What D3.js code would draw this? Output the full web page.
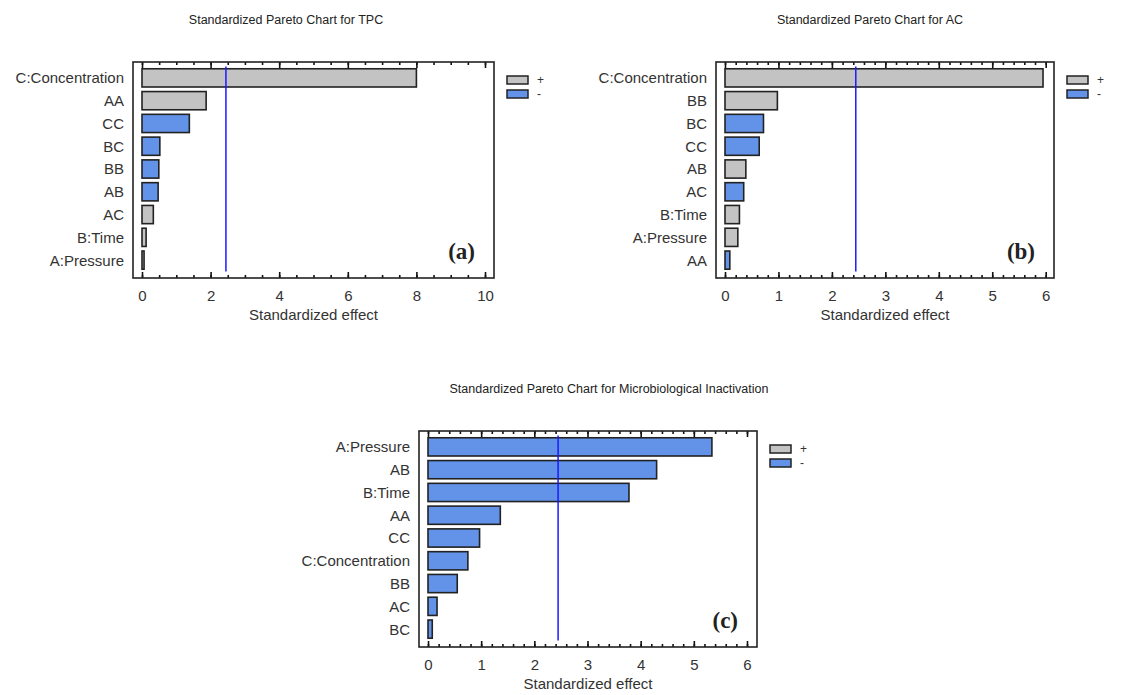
<!DOCTYPE html>
<html>
<head>
<meta charset="utf-8">
<script src="https://cdnjs.cloudflare.com/ajax/libs/d3/7.8.5/d3.min.js"></script>
<style>
  body { margin: 0; background: #fff; }
  svg { font-family: "Liberation Sans", Arial, sans-serif; }
</style>
</head>
<body>
<svg width="1137" height="695"></svg>
<script>
// panel (a) TPC
var termsA = ["C:Concentration", "AA", "CC", "BC", "BB", "AB", "AC", "B:Time", "A:Pressure"];
var effectsA = [8.0, 1.87, 1.38, 0.52, 0.49, 0.47, 0.33, 0.12, 0.06];
var signsA = ["+", "+", "-", "-", "-", "-", "+", "+", "+"];
var ticksA = [0, 2, 4, 6, 8, 10];

// panel (b) AC
var termsB = ["C:Concentration", "BB", "BC", "CC", "AB", "AC", "B:Time", "A:Pressure", "AA"];
var effectsB = [5.95, 0.98, 0.72, 0.64, 0.39, 0.35, 0.27, 0.24, 0.09];
var signsB = ["+", "+", "-", "-", "+", "-", "+", "+", "-"];
var ticksB = [0, 1, 2, 3, 4, 5, 6];

// panel (c) microbiological inactivation
var termsC = ["A:Pressure", "AB", "B:Time", "AA", "CC", "C:Concentration", "BB", "AC", "BC"];
var effectsC = [5.34, 4.30, 3.78, 1.36, 0.97, 0.75, 0.55, 0.17, 0.08];
var signsC = ["-", "-", "-", "-", "-", "-", "-", "-", "-"];
var ticksC = [0, 1, 2, 3, 4, 5, 6];

var critical = 2.447;
var legendKeys = ["+", "-"];

var svg = d3.select("svg");
var color = { "+": "#c3c3c3", "-": "#6393e8" };

function drawPanel(p) {
    var g = svg.append("g");
    var x = d3.scaleLinear().domain([0, p.max]).range([p.left + 9, p.right - p.rpad]);
    var y = d3.scaleBand().domain(p.terms).range([p.top + 4.5, p.bottom - 6.5]).paddingInner(0.2).paddingOuter(0.1);

    g.append("text")
     .attr("x", p.titleX)
     .attr("y", p.top - 38)
     .attr("text-anchor", "middle")
     .attr("font-size", "12.5px")
     .style("fill", "#222")
     .text(p.title);

    // minor and major ticks, bottom and top, pointing inward
    var minor = d3.range(0, p.max + 1e-9, p.minor);
    function clean(s) {
        s.select(".domain").remove();
        s.selectAll(".tick line").attr("stroke", "#111").attr("stroke-width", 1.6);
    }
    g.append("g")
     .attr("transform", "translate(0," + p.bottom + ")")
     .call(d3.axisBottom(x).tickValues(minor).tickSize(-3).tickFormat(""))
     .call(clean);
    g.append("g")
     .attr("transform", "translate(0," + p.top + ")")
     .call(d3.axisTop(x).tickValues(minor).tickSize(-3).tickFormat(""))
     .call(clean);
    g.append("g")
     .attr("transform", "translate(0," + p.top + ")")
     .call(d3.axisTop(x).tickValues(p.ticks).tickSize(-6).tickFormat(""))
     .call(clean);
    var ax = g.append("g")
     .attr("transform", "translate(0," + p.bottom + ")")
     .call(d3.axisBottom(x).tickValues(p.ticks).tickSize(-6).tickPadding(12).tickFormat(d3.format("d")))
     .call(clean);
    ax.selectAll("text").attr("font-size", "15px").attr("fill", "#333").attr("font-family", "Liberation Sans, Arial, sans-serif");

    g.append("text")
     .attr("x", (p.left + p.right) / 2)
     .attr("y", p.bottom + 42)
     .attr("text-anchor", "middle")
     .attr("font-size", "15px")
     .style("fill", "#333")
     .text("Standardized effect");

    // term labels
    g.selectAll(".term")
     .data(p.terms)
     .enter().append("text")
     .attr("class", "term")
     .attr("x", p.left - 9)
     .attr("y", function(d) { return y(d) + y.bandwidth() / 2; })
     .attr("dy", "0.36em")
     .attr("text-anchor", "end")
     .attr("font-size", "15px")
     .style("fill", "#333")
     .text(function(d) { return d; });

    g.selectAll(".bar")
     .data(p.terms)
     .enter().append("rect")
     .attr("class", "bar")
     .attr("x", x(0))
     .attr("y", function(d) { return y(d); })
     .attr("width", function(d, i) { return x(p.effects[i]) - x(0); })
     .attr("height", y.bandwidth())
     .style("fill", function(d, i) { return color[p.signs[i]]; })
     .style("stroke", "#222")
     .style("stroke-width", 1.6);

    g.append("line")
     .attr("x1", x(critical)).attr("x2", x(critical))
     .attr("y1", y.range()[0]).attr("y2", y.range()[1])
     .style("stroke", "#1a1aff")
     .style("stroke-width", 1.5);

    g.append("rect")
     .attr("x", p.left).attr("y", p.top)
     .attr("width", p.right - p.left).attr("height", p.bottom - p.top)
     .style("fill", "none")
     .style("stroke", "#222")
     .style("stroke-width", 1.6);

    g.append("text")
     .attr("x", p.right - 19)
     .attr("y", p.bottom - 19)
     .attr("text-anchor", "end")
     .attr("font-family", "Liberation Serif, serif")
     .attr("font-weight", "bold")
     .attr("font-size", "23px")
     .style("fill", "#222")
     .text(p.tag);

    // legend
    var lg = g.selectAll(".leg")
     .data(legendKeys)
     .enter().append("g")
     .attr("transform", function(d, i) { return "translate(" + (p.right + 13) + "," + (p.top + 14 + i * 14) + ")"; });
    lg.append("rect")
     .attr("width", 21).attr("height", 8)
     .style("fill", function(d) { return color[d]; })
     .style("stroke", "#222")
     .style("stroke-width", 1.5);
    lg.append("text")
     .attr("x", 30).attr("y", 4)
     .attr("dy", "0.35em")
     .attr("font-size", "12px")
     .style("fill", "#333")
     .text(function(d) { return d; });
}

drawPanel({ title: "Standardized Pareto Chart for TPC", titleX: 286, tag: "(a)",
    terms: termsA, effects: effectsA, signs: signsA, ticks: ticksA, minor: 0.5, max: 10,
    left: 133, right: 494, top: 62, bottom: 278, rpad: 9 });
drawPanel({ title: "Standardized Pareto Chart for AC", titleX: 870, tag: "(b)",
    terms: termsB, effects: effectsB, signs: signsB, ticks: ticksB, minor: 0.2, max: 6,
    left: 716, right: 1054, top: 62, bottom: 278, rpad: 8.3 });
drawPanel({ title: "Standardized Pareto Chart for Microbiological Inactivation", titleX: 609, tag: "(c)",
    terms: termsC, effects: effectsC, signs: signsC, ticks: ticksC, minor: 0.2, max: 6,
    left: 419, right: 757, top: 431, bottom: 647, rpad: 10 });
</script>
</body>
</html>
